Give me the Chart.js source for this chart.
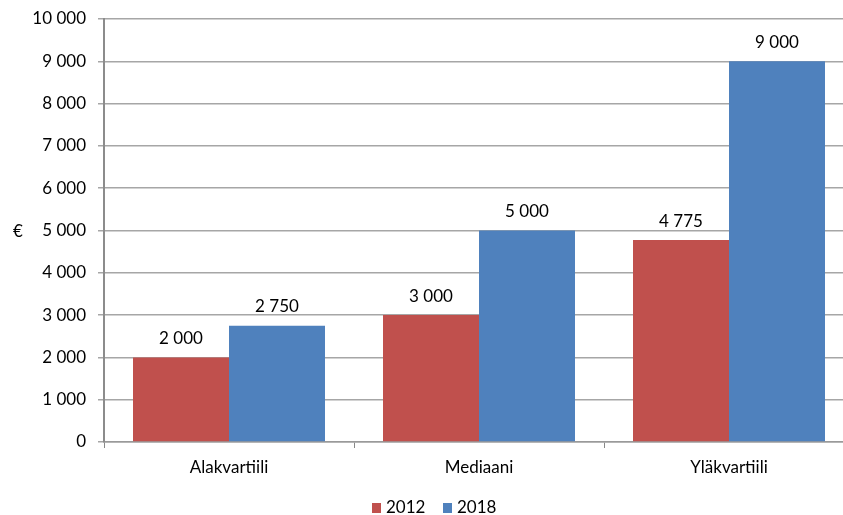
<!DOCTYPE html>
<html>
<head>
<meta charset="utf-8">
<script src="https://cdn.jsdelivr.net/npm/chart.js@4"></script>
<style>
html,body{margin:0;padding:0;background:#fff;overflow:hidden;}
#wrap{position:absolute;left:0;top:0;width:860px;height:515px;}
</style>
</head>
<body>
<div id="wrap"><canvas id="c" width="860" height="515"></canvas></div>
<script>
const categories = ["Alakvartiili", "Mediaani", "Yläkvartiili"];
const seriesNames = ["2012", "2018"];
const values2012 = [2000, 3000, 4775];
const values2018 = [2750, 5000, 9000];
const yTicks = [0, 1000, 2000, 3000, 4000, 5000, 6000, 7000, 8000, 9000, 10000];
const yUnit = "€";

const FONT = "Lato, 'Open Sans', sans-serif";
const fmt = v => String(v).replace(/\B(?=(\d{3})+(?!\d))/g, " ");

const labelsPlugin = {
  id: 'valLabels',
  afterDatasetsDraw(chart) {
    const ctx = chart.ctx;
    ctx.save();
    ctx.font = "17px " + FONT;
    ctx.fillStyle = "#000";
    ctx.textAlign = "center";
    ctx.textBaseline = "middle";
    chart.data.datasets.forEach((ds, di) => {
      chart.getDatasetMeta(di).data.forEach((bar, i) => {
        ctx.fillText(fmt(ds.data[i]), bar.x, bar.y - 19);
      });
    });
    // y unit
    ctx.fillText(yUnit, 18, (chart.chartArea.top + chart.chartArea.bottom) / 2 + 1);
    // legend
    const items = [
      {name: seriesNames[0], color: chart.data.datasets[0].backgroundColor, x: 372},
      {name: seriesNames[1], color: chart.data.datasets[1].backgroundColor, x: 443}
    ];
    ctx.textAlign = "left";
    items.forEach(it => {
      ctx.fillStyle = it.color;
      ctx.fillRect(it.x, 503, 9, 10);
      ctx.fillStyle = "#000";
      ctx.fillText(it.name, it.x + 14, 508);
    });
    ctx.restore();
  }
};

new Chart(document.getElementById('c'), {
  type: 'bar',
  data: {
    labels: categories,
    datasets: [
      {label: seriesNames[0], data: values2012, backgroundColor: "#C0504D", borderWidth: 0},
      {label: seriesNames[1], data: values2018, backgroundColor: "#4F81BD", borderWidth: 0}
    ]
  },
  options: {
    responsive: false,
    animation: false,
    devicePixelRatio: 1,
    layout: {padding: {top: 19, right: 6, bottom: 0, left: 0}},
    categoryPercentage: 0.768,
    barPercentage: 1.0,
    plugins: {legend: {display: false}, tooltip: {enabled: false}},
    scales: {
      x: {
        offset: true,
        grid: {display: true, drawOnChartArea: false, drawTicks: true, tickLength: 6, color: "#888888", offset: true},
        border: {display: true, color: "#9a9a9a", width: 1.5},
        ticks: {font: {family: FONT, size: 17}, color: "#000", padding: 9, maxRotation: 0},
        afterFit(s) { s.height = 73; s.paddingLeft = 0; s.paddingRight = 0; }
      },
      y: {
        min: 0, max: 10000,
        afterBuildTicks(s) { s.ticks = yTicks.map(v => ({value: v})); },
        grid: {color: "#a6a6a6", lineWidth: 1.5, tickLength: 6, drawTicks: true},
        border: {display: true, color: "#8c8c8c", width: 2},
        ticks: {font: {family: FONT, size: 17}, color: "#000", padding: 12, callback: v => fmt(v)},
        afterFit(s) { s.width = 104; s.paddingTop = 0; s.paddingBottom = 0; }
      }
    }
  },
  plugins: [labelsPlugin]
});
</script>
</body>
</html>
